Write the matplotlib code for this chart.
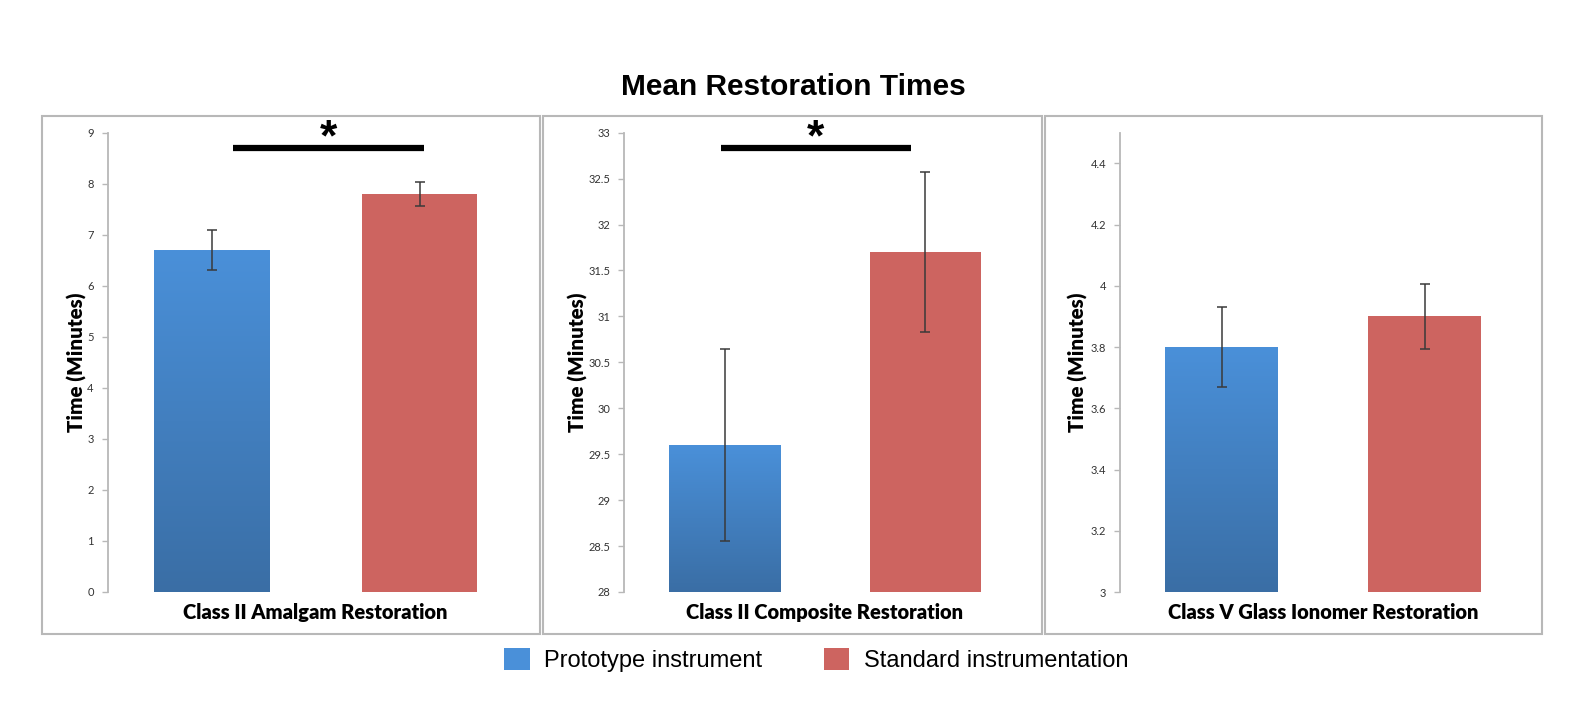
import numpy as np
import matplotlib
matplotlib.use("Agg")
import matplotlib.pyplot as plt
from matplotlib.patches import Rectangle, Patch

# data
panels = ["Class II Amalgam Restoration", "Class II Composite Restoration",
          "Class V Glass Ionomer Restoration"]
groups = ["Prototype instrument", "Standard instrumentation"]
prototype_mean = [6.7, 29.6, 3.8]
prototype_err = [0.39, 1.04, 0.13]
standard_mean = [7.8, 31.7, 3.9]
standard_err = [0.24, 0.87, 0.105]
ylims = [(0, 9), (28, 33), (3, 4.5)]
yticks = [np.arange(0, 10, 1), np.arange(28, 33.5, 0.5), np.arange(3, 4.5, 0.2)]
ytick_labels = [[str(v) for v in range(0, 10)],
                ["28", "28.5", "29", "29.5", "30", "30.5", "31", "31.5", "32", "32.5", "33"],
                ["3", "3.2", "3.4", "3.6", "3.8", "4", "4.2", "4.4"]]
# significance bars: (x start, x end, y) per panel, None if not significant
sig = [(0.10, 1.02, 8.7), (-0.02, 0.93, 32.83), None]

BLUE_TOP = np.array([74, 144, 217]) / 255
BLUE_BOT = np.array([58, 110, 165]) / 255
RED = "#cd6460"
GRAY = "#b8b8b8"

fig = plt.figure(figsize=(15.83, 7.09), dpi=100)
W, H = 1583, 709

def fx(px):
    return px / W

def fy(py):
    return 1 - py / H

# axes placement in pixels (left, right)
axes_px = [(107.7, 523.7), (624.3, 1025.7), (1120, 1526.5)]
boxes_px = [(42, 540), (543, 1042), (1045, 1542)]
ytop, ybot = 132.7, 592

grad = np.linspace(0, 1, 256)[:, None]
grad_rgb = BLUE_TOP[None, None, :] * (1 - grad[..., None]) + BLUE_BOT[None, None, :] * grad[..., None]

for i in range(3):
    l, r = axes_px[i]
    ax = fig.add_axes([fx(l), fy(ybot), fx(r - l), fy(ytop) - fy(ybot)])
    x = np.arange(2)
    bars = ax.bar(x, [prototype_mean[i], standard_mean[i]], width=0.555,
                  color=[BLUE_TOP, RED], zorder=2)
    # gradient fill on the blue bar
    b = bars[0]
    bx, by, bw, bh = b.get_x(), b.get_y(), b.get_width(), b.get_height()
    img = ax.imshow(grad_rgb, extent=[bx, bx + bw, ylims[i][0], by + bh],
                    aspect="auto", zorder=2.5, interpolation="bilinear")
    img.set_clip_path(b)
    ax.errorbar(x, [prototype_mean[i], standard_mean[i]],
                yerr=[prototype_err[i], standard_err[i]], fmt="none",
                ecolor="#3a3a3a", elinewidth=1.1, capsize=3.5, capthick=1.1, zorder=3)
    ax.set_xlim(-0.5, 1.5)
    ax.set_ylim(*ylims[i])
    ax.set_yticks(yticks[i])
    ax.set_yticklabels(ytick_labels[i])
    ax.set_xticks([])
    for s in ["top", "right", "bottom"]:
        ax.spines[s].set_visible(False)
    ax.spines["left"].set_color(GRAY)
    ax.spines["left"].set_linewidth(1.3)
    ax.tick_params(axis="y", colors=GRAY, length=4, width=1, labelsize=8,
                   labelcolor="#333333", pad=6)
    for t in ax.get_yticklabels():
        t.set_family("Lato")
    ax.set_ylabel("Time (Minutes)", fontsize=14.8, fontweight="heavy",
                  family="Lato", labelpad=0 if i != 2 else 2)
    ax.set_xlabel(panels[i], fontsize=14.5, fontweight="heavy", family="Lato",
                  labelpad=8)
    ax.patch.set_alpha(0)
    if sig[i] is not None:
        x0, x1, yy = sig[i]
        ax.plot([x0, x1], [yy, yy], color="black", lw=4.5, solid_capstyle="butt",
                clip_on=False)
        ax.annotate("*", xy=((x0 + x1) / 2, yy), xytext=(0, -8),
                    textcoords="offset points", ha="center", va="bottom",
                    fontsize=32, fontweight="bold", family="Liberation Sans",
                    annotation_clip=False)
    bl, br = boxes_px[i]
    fig.add_artist(Rectangle((fx(bl), fy(634)), fx(br - bl), fy(116) - fy(634),
                             transform=fig.transFigure, fill=False,
                             edgecolor=GRAY, lw=1.5))

fig.text(fx(793), fy(87), "Mean Restoration Times", ha="center", va="center",
         fontsize=21.5, fontweight="bold", family="Liberation Sans")

handles = [Patch(facecolor=BLUE_TOP, edgecolor="none"),
           Patch(facecolor=RED, edgecolor="none")]
fig.legend(handles, groups, loc="center", bbox_to_anchor=(fx(816), fy(660)),
           ncol=2, frameon=False, prop={"family": "Liberation Sans", "size": 17},
           handlelength=1.1, handleheight=1.1, handletextpad=0.6, columnspacing=2.6)

fig.savefig("out.png", dpi=100)
